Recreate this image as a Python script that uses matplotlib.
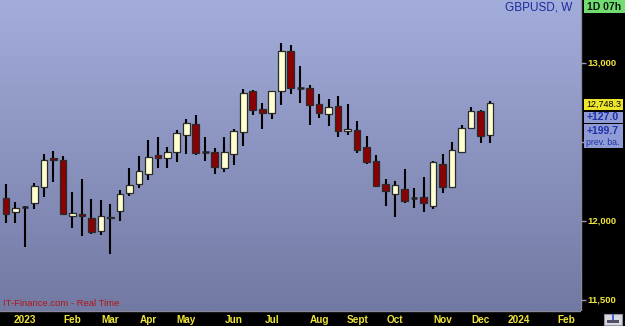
import numpy as np
import pandas as pd
import matplotlib
matplotlib.use('Agg')
import matplotlib.pyplot as plt
from matplotlib.patches import Rectangle

plt.rcParams['font.family'] = ['Liberation Sans', 'DejaVu Sans']

# weekly GBPUSD candles (price x 10000)
weeks = pd.date_range('2022-12-19', periods=52, freq='W-MON')
opens = [12146, 12057, 12090, 12114, 12215, 12399, 12386, 12032, 12044, 12019,
         11937, 12019, 12063, 12177, 12234, 12297, 12418, 12399, 12437, 12544,
         12614, 12437, 12437, 12335, 12424, 12563, 12823, 12709, 12684, 12823,
         13076, 12842, 12842, 12741, 12677, 12728, 12570, 12576, 12468, 12380,
         12234, 12171, 12203, 12146, 12152, 12095, 12361, 12215, 12437, 12589,
         12696, 12544]
highs = [12234, 12120, 12095, 12241, 12424, 12443, 12411, 12184, 12266, 12139,
         12133, 12108, 12196, 12335, 12411, 12513, 12532, 12468, 12576, 12646,
         12671, 12532, 12462, 12532, 12582, 12835, 12829, 12747, 12823, 13127,
         13114, 12981, 12861, 12804, 12772, 12791, 12741, 12633, 12538, 12418,
         12266, 12253, 12329, 12209, 12278, 12380, 12424, 12500, 12608, 12722,
         12703, 12760]
lows = [11987, 11987, 11835, 12076, 12152, 12247, 12038, 11956, 11905, 11918,
        11911, 11791, 12000, 12158, 12209, 12259, 12335, 12335, 12373, 12424,
        12418, 12380, 12297, 12310, 12354, 12475, 12671, 12582, 12646, 12734,
        12804, 12747, 12608, 12652, 12601, 12532, 12544, 12430, 12361, 12215,
        12095, 12025, 12114, 12082, 12057, 12076, 12177, 12209, 12430, 12582,
        12494, 12494]
closes = [12044, 12082, 12090, 12222, 12386, 12386, 12044, 12051, 12032, 11930,
          12032, 12025, 12171, 12228, 12316, 12405, 12399, 12437, 12557, 12620,
          12430, 12437, 12342, 12437, 12570, 12810, 12703, 12684, 12823, 13076,
          12842, 12842, 12734, 12684, 12722, 12570, 12582, 12449, 12373, 12222,
          12190, 12228, 12127, 12146, 12114, 12373, 12215, 12449, 12589, 12696,
          12538, 12748]

tick_marks = [11500, 12000, 12500, 13000]
price_ticks = [11500, 12000, 13000]
price_labels = ['11,500', '12,000', '13,000']
month_labels = ['2023', 'Feb', 'Mar', 'Apr', 'May', 'Jun', 'Jul', 'Aug', 'Sept',
                'Oct', 'Nov', 'Dec', '2024', 'Feb']
last_price = '12,748.3'
change_week = '+127.0'
change_prev = '+199.7'

W, H = 625, 326
fig = plt.figure(figsize=(W / 100, H / 100), dpi=100)
fig.patch.set_facecolor('black')

x0, x1 = -6 / 9.49, (581 - 6) / 9.49
y0, y1 = 11430, 13399
plot_w, plot_h = 581, 311

ax = fig.add_axes([0, 1 - plot_h / H, plot_w / W, plot_h / H])
ax.set_xlim(x0, x1)
ax.set_ylim(y0, y1)
ax.axis('off')

# background gradient
top = np.array([163, 173, 219]) / 255
bot = np.array([114, 121, 163]) / 255
t = np.linspace(0, 1, 256)[:, None]
grad = top * (1 - t[..., None]) + bot * t[..., None]
grad = np.repeat(grad, 2, axis=1)
ax.imshow(grad, extent=[x0, x1, y0, y1], aspect='auto', origin='upper', zorder=0)

# candles
for i in range(len(opens)):
    o, h, l, c = opens[i], highs[i], lows[i], closes[i]
    ax.vlines(i, l, h, color='black', lw=1.5, zorder=2)
    if o == c:
        ax.hlines(o, i - 0.36, i + 0.36, color='#222222', lw=1.8, zorder=3)
        continue
    fc = '#ffffcf' if c > o else '#8b0000'
    ax.add_patch(Rectangle((i - 0.35, min(o, c)), 0.70, abs(c - o), facecolor=fc,
                           edgecolor='#2a2a2a', lw=0.9, zorder=3))

ax.text(572 / plot_w, 1 - 8 / plot_h, 'GBPUSD, W', transform=ax.transAxes,
        ha='right', va='center', fontsize=8.5, color='#1c2a9c')
ax.text(3 / plot_w, 1 - 303 / plot_h, 'IT-Finance.com - Real Time',
        transform=ax.transAxes, ha='left', va='center', fontsize=6.8, color='#b01818')

# right price panel
axr = fig.add_axes([plot_w / W, 1 - plot_h / H, (W - plot_w) / W, plot_h / H])
axr.set_xlim(0, 1)
axr.set_ylim(y0, y1)
axr.set_facecolor('black')
axr.set_xticks([])
axr.set_yticks([])
for s in axr.spines.values():
    s.set_visible(False)
axr.axvline(0.01, color='#8a8a9a', lw=1)
for p in tick_marks:
    axr.hlines(p, 0, 0.12, color='#9a9aaa', lw=1)
for p, lab in zip(price_ticks, price_labels):
    axr.text(0.14, p, lab, ha='left', va='center', fontsize=6.8,
             color='#f0e63a', fontweight='bold')

def px(y):
    return y1 - y * (y1 - y0) / plot_h

def box(ytop, ybot, fc):
    axr.add_patch(Rectangle((0.07, px(ybot)), 0.88, px(ytop) - px(ybot),
                            facecolor=fc, edgecolor='none', zorder=4))

box(99, 110, '#ece52a')
axr.text(0.51, px(104.5), last_price, ha='center', va='center', fontsize=6.5,
         color='black', zorder=5)
box(112, 123, '#8f9bd4')
axr.add_patch(Rectangle((0.95, px(123)), 0.05, px(112) - px(123),
                        facecolor='black', zorder=4))
axr.text(0.12, px(117.5), change_week, ha='left', va='center', fontsize=7.5,
         color='#1f2fa8', fontweight='bold', zorder=5)
box(124, 148, '#8f9bd4')
axr.text(0.12, px(131), change_prev, ha='left', va='center', fontsize=7.5,
         color='#1f2fa8', fontweight='bold', zorder=5)
axr.text(0.12, px(143), 'prev. ba.', ha='left', va='center', fontsize=6.3,
         color='#1f2fa8', zorder=5)

# timer box at top right
axr.add_patch(Rectangle((0.07, px(13)), 0.93, px(0) - px(13),
                        facecolor='#72dc72', edgecolor='none', zorder=4))
axr.text(0.52, px(6.5), '1D 07h', ha='center', va='center', fontsize=7.5,
         color='#0a1a0a', fontweight='bold', zorder=5)

# bottom date axis
axb = fig.add_axes([0, 0, plot_w / W, 1 - plot_h / H])
axb.set_xlim(x0, x1)
axb.set_ylim(0, 1)
axb.set_facecolor('black')
axb.set_xticks([])
axb.set_yticks([])
for s in axb.spines.values():
    s.set_visible(False)
axb.axhline(0.97, color='#8a8a9a', lw=1)

month_starts = pd.date_range('2023-01-01', periods=len(month_labels), freq='MS')
for m, lab in zip(month_starts, month_labels):
    first_mon = m + pd.Timedelta(days=(7 - m.weekday()) % 7)
    pos = (first_mon - weeks[0]).days / 7
    axb.text(pos, 0.42, lab, ha='center', va='center', fontsize=7.2,
             color='#f0e63a', fontweight='bold')

# small icon at bottom right corner
fig.patches.append(Rectangle((604 / W, 1 / H), 18 / W, 11 / H, facecolor='#d8d8e0',
                             edgecolor='#9090a0', lw=0.8, transform=fig.transFigure))
fig.patches.append(Rectangle((607 / W, 3 / H), 12 / W, 3 / H, facecolor='#505060',
                             edgecolor='none', transform=fig.transFigure))
fig.lines.append(plt.Line2D([613 / W, 613 / W], [6 / H, 11 / H], color='#3050c0',
                            lw=1.2, transform=fig.transFigure))

fig.savefig('out.png', dpi=100, facecolor=fig.get_facecolor())
